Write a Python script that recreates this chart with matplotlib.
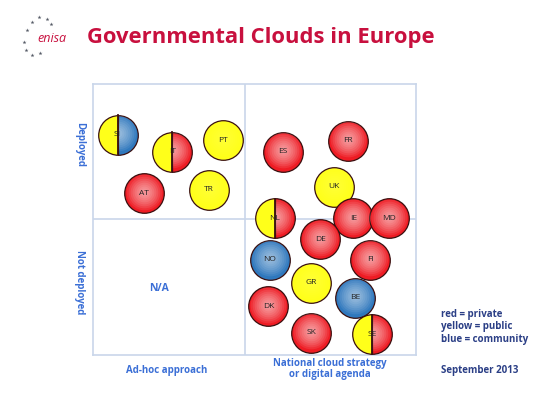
import matplotlib.pyplot as plt

# bubble data: country, x (0-100, ad-hoc -> national strategy), y (0-100, not deployed -> deployed)
countries = ["SI", "IT", "PT", "AT", "TR", "ES", "FR", "UK", "NL", "IE", "MD",
             "DE", "NO", "FI", "GR", "BE", "DK", "SK", "SE"]
x_pos = [7.6, 24.6, 40.2, 15.9, 35.8, 58.7, 78.9, 74.5, 56.3, 80.6, 91.6,
         70.4, 54.7, 85.9, 67.6, 81.2, 54.3, 67.6, 86.5]
y_pos = [81.2, 75.0, 79.3, 59.7, 60.9, 75.0, 79.1, 62.1, 50.4, 50.4, 50.4,
         42.7, 35.2, 35.2, 26.6, 21.1, 18.0, 8.2, 7.6]
# cloud type: left half / right half
left_type = ["public", "public", "public", "private", "public", "private", "private", "public",
             "public", "private", "private", "private", "community", "private", "public",
             "community", "private", "private", "public"]
right_type = ["community", "private", "public", "private", "public", "private", "private", "public",
              "private", "private", "private", "private", "community", "private", "public",
              "community", "private", "private", "private"]

colors = {"private": "#ee1c24", "public": "#ffff1a", "community": "#2f78bd"}
shine = {"private": 0.09, "public": 0.015, "community": 0.08}

fig = plt.figure(figsize=(5.4, 4.05), dpi=100)

# frame of the quadrant chart (pixels: x 93-416, y 84-355)
ax = fig.add_axes([93 / 540, 50 / 405, 323 / 540, 271 / 405])
ax.set_xlim(0, 100)
ax.set_ylim(0, 100)
ax.set_xticks([])
ax.set_yticks([])
for s in ax.spines.values():
    s.set_color("#c9d6ea")
    s.set_linewidth(1.2)
ax.axvline(47.1, color="#c9d6ea", lw=1.2)
ax.axhline(50.2, color="#c9d6ea", lw=1.2)

ms = 28.5
layers = [0.9, 0.8, 0.7, 0.6, 0.5, 0.4, 0.3, 0.2]
for c, x, y, lt, rt in zip(countries, x_pos, y_pos, left_type, right_type):
    if lt == rt:
        ax.plot(x, y, "o", ms=ms, mfc=colors[lt], mec="#3a1010", mew=0.9, zorder=3)
        for f in layers:
            ax.plot(x, y + 0.6, "o", ms=ms * f, mfc="white", mec="none",
                    alpha=shine[lt], zorder=4)
    else:
        ax.plot(x, y, "o", ms=ms, fillstyle="left", mfc=colors[lt],
                mfcalt=colors[rt], mec="#3a1010", mew=0.9, zorder=3)
        for f in layers:
            ax.plot(x, y + 0.6, "o", ms=ms * f, fillstyle="right", mfc="white",
                    mfcalt="none", mec="none", alpha=shine[rt], zorder=4)
        ax.plot([x, x], [y - 7.2, y + 7.2], color="#3a1010", lw=1.3, zorder=5)
    ax.text(x, y, c, ha="center", va="center", fontsize=6, color="#222222",
            family="Open Sans", zorder=6)

ax.text(20.5, 24.5, "N/A", ha="center", va="center", fontsize=7.5,
        color="#3b6fd6", family="Open Sans", fontweight="bold")

# overlay in pixel coordinates for slide texts
ov = fig.add_axes([0, 0, 1, 1])
ov.set_xlim(0, 540)
ov.set_ylim(405, 0)
ov.axis("off")
ov.patch.set_alpha(0)

ov.text(87, 37, "Governmental Clouds in Europe", ha="left", va="center",
        fontsize=15.8, color="#c8103e", family="Open Sans", fontweight="bold")
ov.text(52, 38, "enisa", ha="center", va="center", fontsize=9, color="#c8103e",
        family="Open Sans", style="italic")
star_x = [31.7, 39.3, 46.7, 50.7, 26.7, 24.0, 26.0, 32.3, 40.0]
star_y = [21.7, 16.7, 19.0, 24.0, 30.0, 41.7, 50.0, 55.0, 53.3]
ov.scatter(star_x, star_y, marker="*", s=9, color="#555a66", linewidths=0)

blue = "#3b6fd6"
ov.text(80, 145, "Deployed", rotation=-90, ha="center", va="center",
        fontsize=7, color=blue, family="Open Sans", fontweight="bold")
ov.text(80, 282, "Not deployed", rotation=-90, ha="center", va="center",
        fontsize=7, color=blue, family="Open Sans", fontweight="bold")
ov.text(167, 370, "Ad-hoc approach", ha="center", va="center",
        fontsize=7, color=blue, family="Open Sans", fontweight="bold")
ov.text(330, 369, "National cloud strategy\nor digital agenda", ha="center",
        va="center", fontsize=7, color=blue, family="Open Sans",
        fontweight="bold", linespacing=1.1)

navy = "#2b3f86"
ov.text(441, 327, "red = private\nyellow = public\nblue = community", ha="left",
        va="center", fontsize=7, color=navy, family="Open Sans",
        fontweight="bold", linespacing=1.15)
ov.text(441, 371, "September 2013", ha="left", va="center", fontsize=7,
        color=navy, family="Open Sans", fontweight="bold")

fig.savefig("out.png", dpi=100)
